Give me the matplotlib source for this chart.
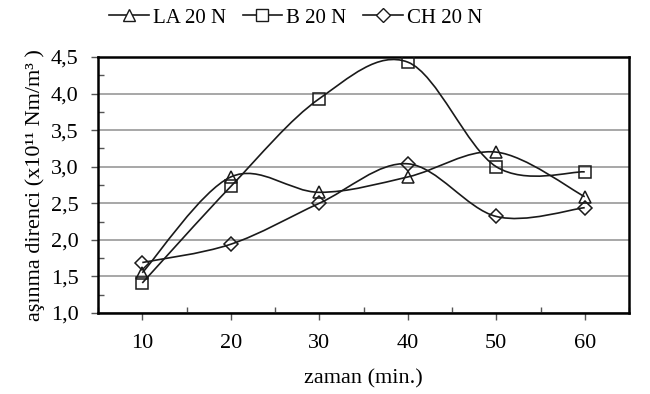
import numpy as np
import matplotlib
matplotlib.use("Agg")
import matplotlib.pyplot as plt
from matplotlib.path import Path
from matplotlib.patches import PathPatch
from matplotlib.lines import Line2D
from matplotlib.ticker import MultipleLocator, FuncFormatter

plt.rcParams['font.family'] = ['Liberation Serif', 'DejaVu Serif']

# data
zaman = [10, 20, 30, 40, 50, 60]
la_20n = [1.55, 2.86, 2.65, 2.86, 3.20, 2.59]
b_20n = [1.41, 2.73, 3.93, 4.43, 3.00, 2.93]
ch_20n = [1.69, 1.94, 2.50, 3.04, 2.32, 2.44]

series = [
    ("LA 20 N", la_20n, "^"),
    ("B 20 N", b_20n, "s"),
    ("CH 20 N", ch_20n, "D"),
]


def smooth_path(x, y):
    # bezier curve through the points (Excel "smoothed line" style)
    pts = np.column_stack([x, y]).astype(float)
    n = len(pts)
    verts = [pts[0]]
    codes = [Path.MOVETO]
    for i in range(n - 1):
        p0 = pts[max(i - 1, 0)]
        p1 = pts[i]
        p2 = pts[i + 1]
        p3 = pts[min(i + 2, n - 1)]
        c1 = p1 + (p2 - p0) / 6.0
        c2 = p2 - (p3 - p1) / 6.0
        verts += [c1, c2, p2]
        codes += [Path.CURVE4] * 3
    return Path(verts, codes)


fig = plt.figure(figsize=(6.5, 3.94), dpi=100)
ax = fig.add_axes([0.1508, 0.2056, 0.8169, 0.6497])

ax.set_xlim(5, 65)
ax.set_ylim(1.0, 4.5)
ax.yaxis.grid(True, color="#a0a0a0", linewidth=1.3)
ax.set_axisbelow(True)

handles = []
for name, vals, mk in series:
    patch = PathPatch(smooth_path(zaman, vals), facecolor="none",
                      edgecolor="#1a1a1a", linewidth=1.2, zorder=3)
    ax.add_patch(patch)
    ms = 9 if mk != "D" else 7
    ax.plot(zaman, vals, linestyle="none", marker=mk, markersize=ms,
            markerfacecolor="none", markeredgecolor="#1a1a1a",
            markeredgewidth=1.1, zorder=4)
    handles.append(Line2D([], [], color="#1a1a1a", linewidth=1.2, marker=mk,
                          markersize=ms, markerfacecolor="white",
                          markeredgecolor="#1a1a1a", label=name))

for sp in ax.spines.values():
    sp.set_linewidth(1.8)
    sp.set_color("black")

ax.xaxis.set_major_locator(MultipleLocator(10))
ax.xaxis.set_minor_locator(MultipleLocator(5))
ax.yaxis.set_major_locator(MultipleLocator(0.5))
ax.yaxis.set_minor_locator(MultipleLocator(0.25))
ax.yaxis.set_major_formatter(FuncFormatter(lambda v, p: f"{v:.1f}".replace(".", ",")))
ax.tick_params(axis="both", which="major", length=5, width=1, direction="out",
               labelsize=16, color="#555555")
ax.tick_params(axis="both", which="minor", length=4, width=1, direction="in",
               color="#555555")
ax.tick_params(axis="x", which="major", pad=10)
ax.tick_params(axis="y", which="major", pad=9)

ax.set_xlabel("zaman (min.)", fontsize=16, labelpad=12)
ax.set_ylabel("aşınma direnci (x10¹¹ Nm/m³ )", fontsize=16, labelpad=4)

fig.legend(handles=handles, loc="center", bbox_to_anchor=(0.455, 0.955),
           ncol=3, frameon=False, fontsize=15, handlelength=1.9,
           handletextpad=0.2, columnspacing=0.8)

fig.savefig("out.png", dpi=100)
